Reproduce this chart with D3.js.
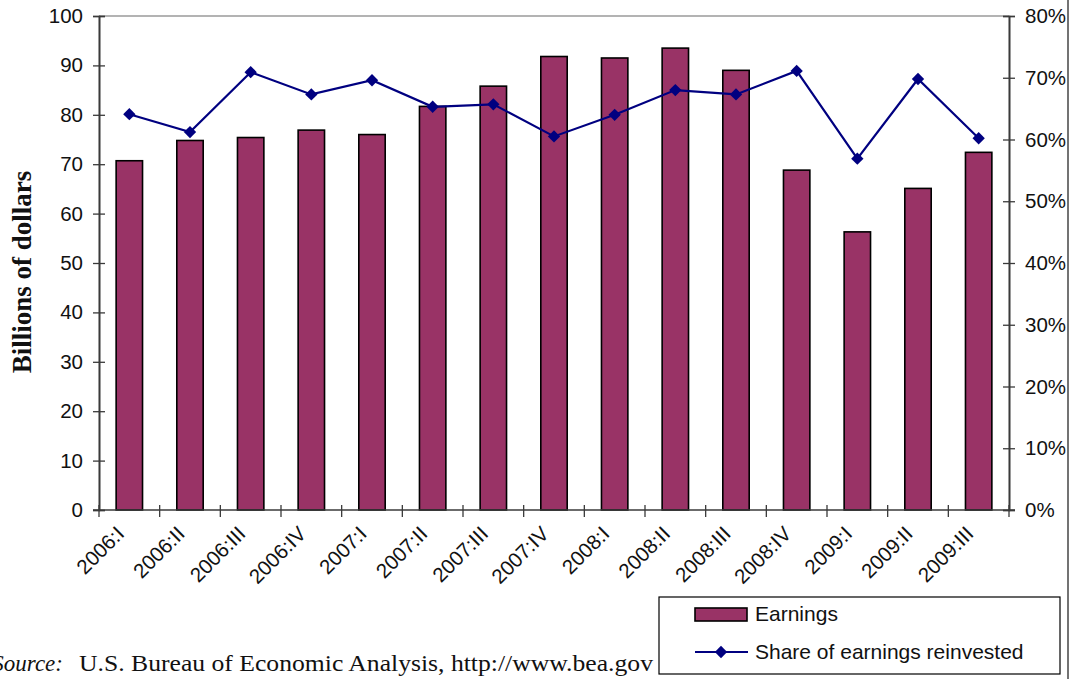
<!DOCTYPE html>
<html>
<head>
<meta charset="utf-8">
<script src="https://cdn.jsdelivr.net/npm/d3@7"></script>
<style>
  html, body { margin: 0; padding: 0; background: #fff; }
  svg { display: block; }
</style>
</head>
<body>
<svg id="chart" width="1072" height="679"></svg>
<script>
// ---- data ----
const quarters = ["2006:I","2006:II","2006:III","2006:IV","2007:I","2007:II","2007:III","2007:IV",
                  "2008:I","2008:II","2008:III","2008:IV","2009:I","2009:II","2009:III"];
const earnings = [70.7, 74.8, 75.4, 76.9, 76.0, 81.7, 85.8, 91.8, 91.5, 93.5, 89.0, 68.8, 56.3, 65.1, 72.4];
const shareReinvested = [64.1, 61.2, 70.9, 67.3, 69.6, 65.3, 65.7, 60.5, 64.0, 68.0, 67.3, 71.1, 56.9, 69.8, 60.2];
const leftTicks = [0, 10, 20, 30, 40, 50, 60, 70, 80, 90, 100];
const rightTicks = [0, 10, 20, 30, 40, 50, 60, 70, 80];
const seriesNames = ["Earnings", "Share of earnings reinvested"];
const yTitle = "Billions of dollars";
const sourceLabel = "Source:";
const sourceText = "U.S. Bureau of Economic Analysis, http://www.bea.gov";

// ---- layout ----
const L = 99, R = 1009, T = 16, B = 510;
const barColor = "#993366", lineColor = "#000080", axisColor = "#3a3a3a";
const font = '"Liberation Sans", Arial, Helvetica, sans-serif';
const serif = '"Liberation Serif", "Times New Roman", serif';

const svg = d3.select("#chart");

const x = d3.scaleBand().domain(quarters).range([L, R]).padding(0);
const yL = d3.scaleLinear().domain([0, 100]).range([B, T]);
const yR = d3.scaleLinear().domain([0, 80]).range([B, T]);
const barW = x.bandwidth() * 0.435;
const cx = q => x(q) + x.bandwidth() / 2;

// top border
svg.append("line").attr("x1", L).attr("x2", R).attr("y1", T).attr("y2", T)
  .attr("stroke", "#9a9a9a").attr("stroke-width", 1.5);

// bars
svg.append("g").selectAll("rect").data(earnings).join("rect")
  .attr("x", (d, i) => cx(quarters[i]) - barW / 2)
  .attr("y", d => yL(d))
  .attr("width", barW)
  .attr("height", d => yL(0) - yL(d))
  .attr("fill", barColor)
  .attr("stroke", "#000").attr("stroke-width", 1.6);

// left axis
svg.append("g").attr("transform", `translate(${L},0)`)
  .call(d3.axisLeft(yL).tickValues(leftTicks).tickSize(6).tickPadding(10).tickFormat(d3.format("d")));
svg.append("g").attr("transform", `translate(${L},0)`)
  .call(d3.axisRight(yL).tickValues(leftTicks).tickSize(6).tickFormat(""));
// right axis
svg.append("g").attr("transform", `translate(${R},0)`)
  .call(d3.axisRight(yR).tickValues(rightTicks).tickSize(6).tickPadding(10).tickFormat(d => d + "%"));
svg.append("g").attr("transform", `translate(${R},0)`)
  .call(d3.axisLeft(yR).tickValues(rightTicks).tickSize(6).tickFormat(""));

svg.selectAll(".domain").attr("stroke", axisColor).attr("stroke-width", 1.6);
svg.selectAll(".tick line").attr("stroke", axisColor).attr("stroke-width", 1.3);
svg.selectAll(".tick text").attr("font-size", 20.5).attr("fill", "#111").style("font-family", font);

// bottom axis
svg.append("line").attr("x1", L - 6).attr("x2", R + 6).attr("y1", B).attr("y2", B)
  .attr("stroke", axisColor).attr("stroke-width", 1.6);
const bounds = quarters.map(q => x(q)).concat([x.range()[1]]);
svg.append("g").selectAll("line").data(bounds).join("line")
  .attr("x1", d => d).attr("x2", d => d).attr("y1", B - 5).attr("y2", B + 7)
  .attr("stroke", axisColor).attr("stroke-width", 1.3);

// x labels
svg.append("g").selectAll("text").data(quarters).join("text")
  .attr("transform", d => `translate(${cx(d) - 9},${B + 20}) rotate(-45)`)
  .attr("text-anchor", "end").attr("dy", "0.35em")
  .attr("font-family", font).attr("font-size", 20.5).attr("fill", "#111")
  .text(d => d);

// line series
const line = d3.line().x((d, i) => cx(quarters[i])).y(d => yR(d));
svg.append("path").datum(shareReinvested).attr("d", line)
  .attr("fill", "none").attr("stroke", lineColor).attr("stroke-width", 2.2);
svg.append("g").selectAll("path").data(shareReinvested).join("path")
  .attr("transform", (d, i) => `translate(${cx(quarters[i])},${yR(d)}) rotate(45)`)
  .attr("d", d3.symbol().type(d3.symbolSquare).size(76))
  .attr("fill", lineColor);

// y title
svg.append("text")
  .attr("transform", `translate(31,272) rotate(-90)`)
  .attr("text-anchor", "middle")
  .attr("font-family", serif)
  .attr("font-weight", "bold").attr("font-size", 27).attr("fill", "#111")
  .text(yTitle);

// source
svg.append("text").attr("x", 63).attr("y", 671).attr("text-anchor", "end")
  .attr("font-family", serif)
  .attr("font-style", "italic").attr("font-size", 23).attr("fill", "#111")
  .text(sourceLabel);
svg.append("text").attr("x", 79).attr("y", 671)
  .attr("font-family", serif)
  .attr("font-size", 23).attr("fill", "#111")
  .attr("textLength", 574).attr("lengthAdjust", "spacingAndGlyphs")
  .text(sourceText);

// legend
const lg = svg.append("g");
lg.append("rect").attr("x", 659).attr("y", 597).attr("width", 401).attr("height", 77)
  .attr("fill", "#fff").attr("stroke", "#000").attr("stroke-width", 1.2);
lg.append("rect").attr("x", 695).attr("y", 608).attr("width", 52).attr("height", 13)
  .attr("fill", barColor).attr("stroke", "#000").attr("stroke-width", 1.6);
lg.append("text").attr("x", 755).attr("y", 614).attr("dy", "0.35em")
  .attr("font-family", font).attr("font-size", 21).attr("fill", "#111").text(seriesNames[0]);
lg.append("line").attr("x1", 695).attr("x2", 748).attr("y1", 652).attr("y2", 652)
  .attr("stroke", lineColor).attr("stroke-width", 2);
lg.append("path").attr("transform", "translate(721,652) rotate(45)")
  .attr("d", d3.symbol().type(d3.symbolSquare).size(76)).attr("fill", lineColor);
lg.append("text").attr("x", 755).attr("y", 652).attr("dy", "0.35em")
  .attr("font-family", font).attr("font-size", 21).attr("fill", "#111").text(seriesNames[1]);

// right frame line
svg.append("line").attr("x1", 1068).attr("x2", 1068).attr("y1", 0).attr("y2", 679)
  .attr("stroke", "#444").attr("stroke-width", 1.5);
</script>
</body>
</html>
